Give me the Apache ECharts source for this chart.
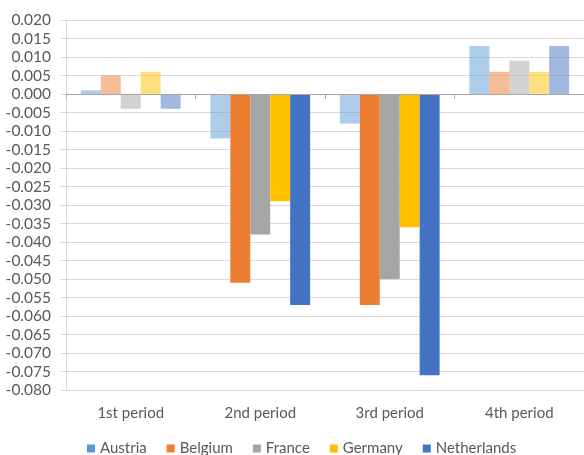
<!DOCTYPE html>
<html>
<head>
<meta charset="utf-8">
<script src="https://cdn.jsdelivr.net/npm/echarts@6/dist/echarts.min.js"></script>
<style>
  html, body { margin: 0; padding: 0; background: #fff; }
  #chart { width: 584px; height: 455px; }
</style>
</head>
<body>
<div id="chart"></div>
<script>
// Period categories
const periods = ['1st period', '2nd period', '3rd period', '4th period'];

// Estimated effect per country and period
const austria     = [0.001, -0.012, -0.008, 0.013];
const belgium     = [0.005, -0.051, -0.057, 0.006];
const france      = [-0.004, -0.038, -0.050, 0.009];
const germany     = [0.006, -0.029, -0.036, 0.006];
const netherlands = [-0.004, -0.057, -0.076, 0.013];

// Whether each estimate is significant (non-significant ones are drawn faded)
const sigAustria     = [false, false, false, false];
const sigBelgium     = [false, true, true, false];
const sigFrance      = [false, true, true, false];
const sigGermany     = [false, true, true, false];
const sigNetherlands = [false, true, true, false];

const countries = ['Austria', 'Belgium', 'France', 'Germany', 'Netherlands'];
const colors = ['#5B9BD5', '#ED7D31', '#A5A5A5', '#FFC000', '#4472C4'];
const values = [austria, belgium, france, germany, netherlands];
const sig = [sigAustria, sigBelgium, sigFrance, sigGermany, sigNetherlands];

const FONT = 'Lato, "Open Sans", sans-serif';

const series = countries.map((name, i) => ({
  name: name,
  type: 'bar',
  xAxisIndex: 0,
  barGap: '0%',
  barCategoryGap: '23%',
  itemStyle: { color: colors[i] },
  data: values[i].map((v, j) => ({
    value: v,
    itemStyle: { opacity: sig[i][j] ? 1 : 0.5 }
  }))
}));

const chart = echarts.init(document.getElementById('chart'), null, { renderer: 'canvas' });
chart.setOption({
  animation: false,
  color: colors,
  grid: { left: 66, right: 0, top: 20, bottom: 65, containLabel: false },
  xAxis: [
    {
      type: 'category',
      data: periods,
      axisLine: { onZero: true, lineStyle: { color: '#A6A6A6', width: 1 } },
      axisTick: { show: true, alignWithLabel: false, interval: 0, length: 5, lineStyle: { color: '#A6A6A6' } },
      axisLabel: { show: false },
      z: 10
    },
    {
      type: 'category',
      data: periods,
      position: 'bottom',
      axisLine: { show: false, onZero: false },
      axisTick: { show: false },
      axisLabel: { show: true, margin: 16, color: '#595959', fontSize: 15, fontFamily: FONT }
    }
  ],
  yAxis: {
    type: 'value',
    min: -0.08,
    max: 0.02,
    interval: 0.005,
    axisLine: { show: true, lineStyle: { color: '#D9D9D9' } },
    axisTick: { show: true, length: 6, lineStyle: { color: '#D9D9D9' } },
    splitLine: { show: true, lineStyle: { color: '#D9D9D9', width: 1 } },
    axisLabel: {
      color: '#595959',
      fontSize: 15.5,
      fontFamily: FONT,
      margin: 15,
      formatter: v => v.toFixed(3)
    }
  },
  legend: {
    top: 436,
    left: 82,
    icon: 'rect',
    itemWidth: 8,
    itemHeight: 8,
    itemGap: 20,
    textStyle: { color: '#595959', fontSize: 15, fontFamily: FONT },
    data: countries
  },
  series: series
});
</script>
</body>
</html>
